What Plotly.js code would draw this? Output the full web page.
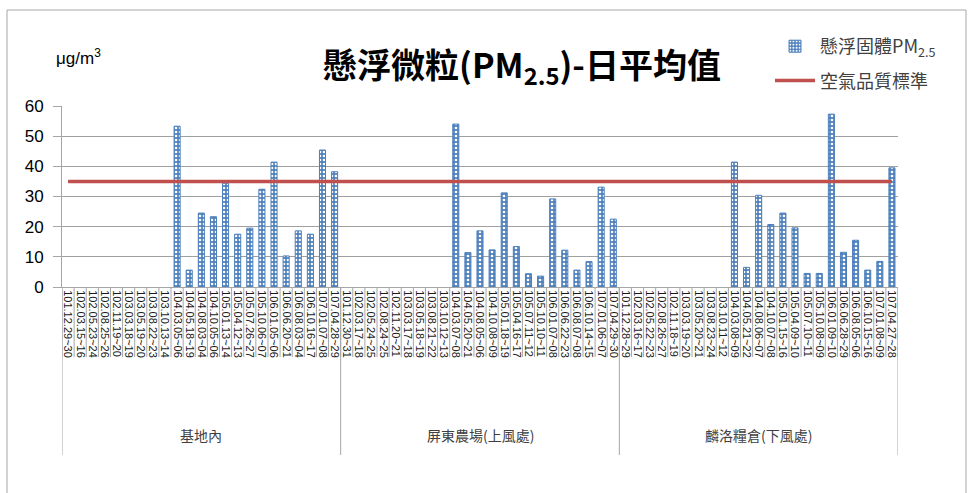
<!DOCTYPE html>
<html>
<head>
<meta charset="utf-8">
<script src="https://cdn.plot.ly/plotly-3.0.1.min.js"></script>
<style>
html,body{margin:0;padding:0;background:#fff;}
#chart{width:979px;height:493px;}
</style>
</head>
<body>
<div id="chart"></div>
<script>
// ---- Data ----
const groupNames = ["基地內", "屏東農場(上風處)", "麟洛糧倉(下風處)"];

const datesBase = ["101.12.29~30","102.03.15~16","102.05.23~24","102.08.25~26","102.11.19~20","103.03.18~19","103.05.19~20","103.08.22~23","103.10.13~14","104.03.05~06","104.05.18~19","104.08.03~04","104.10.05~06","105.01.13~14","105.04.12~13","105.07.26~27","105.10.06~07","106.01.05~06","106.06.20~21","106.08.03~04","106.10.16~17","107.01.07~08","107.04.28~29"];
const datesUpwind = ["101.12.30~31","102.03.17~18","102.05.24~25","102.08.24~25","102.11.20~21","103.03.17~18","103.05.18~19","103.08.21~22","103.10.12~13","104.03.07~08","104.05.20~21","104.08.05~06","104.10.08~09","105.01.18~19","105.04.16~17","105.07.11~12","105.10.10~11","106.01.07~08","106.06.22~23","106.08.07~08","106.10.14~15","107.01.06~07","107.04.29~30"];
const datesDownwind = ["101.12.28~29","102.03.16~17","102.05.22~23","102.08.26~27","102.11.18~19","103.03.19~20","103.05.20~21","103.08.23~24","103.10.11~12","104.03.08~09","104.05.21~22","104.08.06~07","104.10.07~08","105.01.15~16","105.04.09~10","105.07.10~11","105.10.08~09","106.01.09~10","106.06.28~29","106.08.05~06","106.10.15~16","107.01.08~09","107.04.27~28"];

const pmBase = [null,null,null,null,null,null,null,null,null,53.3,5.6,24.5,23.3,34.4,17.5,19.5,32.4,41.4,10.3,18.6,17.5,45.4,38.2];
const pmUpwind = [null,null,null,null,null,null,null,null,null,54.0,11.4,18.6,12.3,31.2,13.4,4.4,3.6,29.2,12.2,5.6,8.4,33.1,22.5];
const pmDownwind = [null,null,null,null,null,null,null,null,null,41.4,6.5,30.4,20.7,24.5,19.6,4.5,4.5,57.3,11.5,15.5,5.6,8.5,39.5];

const standardValue = 35;

// ---- Build category arrays ----
const dateGroups = [datesBase, datesUpwind, datesDownwind];
const pmGroups = [pmBase, pmUpwind, pmDownwind];
const cats = [], pm = [], std = [], groupStart = [];
dateGroups.forEach((ds, g) => {
  groupStart.push(cats.length);
  ds.forEach((d, i) => {
    cats.push(d);
    pm.push(pmGroups[g][i]);
    std.push(standardValue);
  });
});
groupStart.push(cats.length);
const nCat = cats.length;

const fontCJK = '"Noto Sans CJK TC","Noto Sans CJK SC","Noto Sans",sans-serif';
const fontLatin = '"Liberation Sans","Open Sans",sans-serif';

const traces = [
  {
    type: 'bar',
    name: '懸浮固體PM<sub>2.5</sub>',
    legendgroup: 'a',
    x: cats,
    y: pm,
    marker: {
      color: '#4f81bd',
      line: {color: '#4a7ebb', width: 1},
      pattern: {shape: '.', bgcolor: '#4f81bd', fgcolor: '#ffffff', size: 4, solidity: 0.35, fillmode: 'replace'}
    },
    hoverinfo: 'skip'
  },
  {
    type: 'scatter',
    mode: 'lines',
    name: '空氣品質標準',
    legendgroup: 'b',
    x: cats,
    y: std,
    line: {color: '#c0504d', width: 3.5},
    hoverinfo: 'skip'
  }
];

// helpers to convert pixel positions to paper coords
const L = 62, R = 898, T = 106, B = 287;
const py = (pix) => (B - pix) / (B - T);
const px = (pix) => (pix - L) / (R - L);

const shapes = [];
// category boundary lines through the label area
for (let i = 0; i <= nCat; i++) {
  shapes.push({type: 'line', xref: 'x', yref: 'paper', x0: i - 0.5, x1: i - 0.5, y0: 0, y1: py(357),
    line: {color: '#a6a6a6', width: 1}});
}
// group dividers
groupStart.forEach(s => {
  shapes.push({type: 'line', xref: 'x', yref: 'paper', x0: s - 0.5, x1: s - 0.5, y0: 0, y1: py(455),
    line: {color: '#a6a6a6', width: 1}});
});
// outer frame
shapes.push({type: 'line', xref: 'paper', yref: 'paper', x0: px(7), x1: px(7), y0: py(10), y1: py(493), line: {color: '#a6a6a6', width: 1}});
shapes.push({type: 'line', xref: 'paper', yref: 'paper', x0: px(7), x1: px(966), y0: py(10), y1: py(10), line: {color: '#a6a6a6', width: 1}});
shapes.push({type: 'line', xref: 'paper', yref: 'paper', x0: px(966), x1: px(966), y0: py(10), y1: py(493), line: {color: '#a6a6a6', width: 1}});

const annotations = [
  {text: 'μg/m<sup>3</sup>', xref: 'paper', yref: 'paper', x: px(78), y: py(57), xanchor: 'center', yanchor: 'middle',
   showarrow: false, font: {family: fontLatin, size: 17, color: '#000000'}}
];
groupNames.forEach((g, k) => {
  annotations.push({text: g, xref: 'x', yref: 'paper', x: (groupStart[k] + groupStart[k + 1] - 1) / 2, y: py(435),
    xanchor: 'center', yanchor: 'middle', showarrow: false,
    font: {family: fontCJK, size: 14, color: '#404040'}});
});

const layout = {
  width: 979, height: 493,
  margin: {l: L, r: 979 - R, t: T, b: 493 - B, pad: 0},
  paper_bgcolor: '#ffffff',
  plot_bgcolor: '#ffffff',
  showlegend: true,
  bargap: 0.5,
  title: {
    text: '<b>懸浮微粒(PM<sub>2.5</sub>)-日平均值</b>',
    font: {family: fontCJK, size: 34, color: '#000000'},
    xref: 'container', yref: 'container', x: 522 / 979, y: 1 - 66 / 493, xanchor: 'center', yanchor: 'middle'
  },
  legend: {
    x: px(770), y: py(28), xanchor: 'left', yanchor: 'top',
    font: {family: fontCJK, size: 18, color: '#404040'},
    bgcolor: 'rgba(0,0,0,0)', tracegroupgap: 8, itemwidth: 40
  },
  xaxis: {
    type: 'category',
    categoryorder: 'array', categoryarray: cats,
    tickmode: 'linear', tick0: 0, dtick: 1,
    tickangle: 90,
    tickfont: {family: fontLatin, size: 11, color: '#1a1a1a'},
    showline: true, linecolor: '#a6a6a6', linewidth: 1,
    showgrid: false, ticks: '',
    range: [-0.5, nCat - 0.5],
    fixedrange: true
  },
  yaxis: {
    range: [0, 60], dtick: 10, tick0: 0,
    tickfont: {family: fontLatin, size: 17, color: '#000000'},
    showgrid: true, gridcolor: '#a0a0a0', gridwidth: 1,
    showline: true, linecolor: '#a6a6a6', linewidth: 1,
    ticks: 'outside', ticklen: 8, tickcolor: '#a6a6a6',
    ticklabelstandoff: 6,
    zeroline: false, fixedrange: true
  },
  shapes: shapes,
  annotations: annotations
};

Plotly.newPlot('chart', traces, layout, {displayModeBar: false, staticPlot: true});
</script>
</body>
</html>
